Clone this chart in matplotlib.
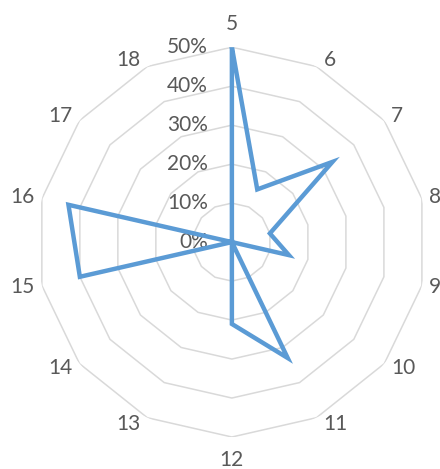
import numpy as np
import matplotlib.pyplot as plt

# categories and values (percent)
categories = ['5', '6', '7', '8', '9', '10', '11', '12', '13', '14', '15', '16', '17', '18']
values = [50, 15, 33, 10, 15, 0, 33, 21, 0, 0, 40, 43, 0, 0]
ring_levels = [0, 10, 20, 30, 40, 50]
ring_labels = ['0%', '10%', '20%', '30%', '40%', '50%']

plt.rcParams['font.family'] = ['Lato', 'DejaVu Sans']
txt_color = '#595959'

fig = plt.figure(figsize=(4.4, 4.69), dpi=100)
ax = fig.add_axes([0.084, 0.068, 0.886, 0.8316], projection='polar')
ax.set_theta_zero_location('N')
ax.set_theta_direction(-1)
ax.set_ylim(0, 50)
ax.grid(False)
ax.spines['polar'].set_visible(False)
ax.set_xticks([])
ax.set_yticks([])
ax.patch.set_alpha(0)

n = len(categories)
angles = np.linspace(0, 2 * np.pi, n, endpoint=False)
closed = np.append(angles, angles[0])

# polygon gridlines
for lvl in ring_levels[1:]:
    ax.plot(closed, [lvl] * (n + 1), color='#D9D9D9', lw=1.1, zorder=1)

# data line
vals = np.append(values, values[0])
ax.plot(closed, vals, color='#5B9BD5', lw=3.2, zorder=3, solid_joinstyle='miter')

# category labels, placed next to the outer ring vertices
for a, lab in zip(angles, categories):
    s, c = np.sin(a), np.cos(a)
    if abs(s) < 0.1:
        off = (0, 23 * np.sign(c))
        ha = 'center'
    else:
        off = (7 * np.sign(s), 7 * c)
        ha = 'left' if s > 0 else 'right'
    ax.annotate(lab, xy=(a, 50), xytext=off, textcoords='offset pixels',
                ha=ha, va='center', fontsize=15, color=txt_color,
                annotation_clip=False)

# radial labels
for lvl, lab in zip(ring_levels, ring_labels):
    ax.annotate(lab, xy=(0, lvl), xytext=(-24, 0), textcoords='offset pixels',
                ha='right', va='center', fontsize=15, color=txt_color, zorder=2)

fig.savefig('out.png', dpi=100)
